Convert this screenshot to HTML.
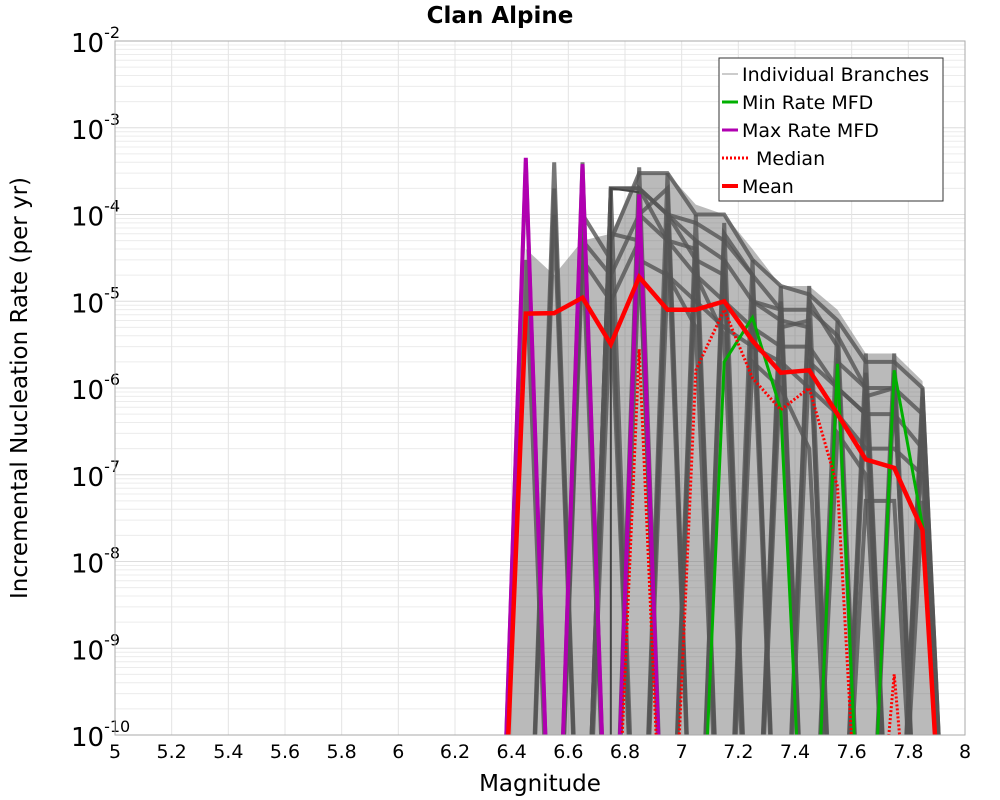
<!DOCTYPE html>
<html><head><meta charset="utf-8"><style>
html,body{margin:0;padding:0;background:#fff;overflow:hidden;width:1000px;height:800px;}
svg{display:block;}
svg text{font-family:"DejaVu Sans","Liberation Sans",sans-serif;}
</style></head><body>
<svg id="chart" width="1000" height="800" xmlns="http://www.w3.org/2000/svg">
<text x="500" y="23" text-anchor="middle" font-size="23" font-weight="bold">Clan Alpine</text>
<g id="grid"></g>
<g id="ticks"></g>
<defs><clipPath id="clip"><rect x="115" y="41" width="850" height="694"/></clipPath></defs>
<g id="series" clip-path="url(#clip)"></g>
<rect x="115" y="41" width="850" height="694" fill="none" stroke="#aaa" stroke-width="1"/>
<text x="540" y="791" text-anchor="middle" font-size="23">Magnitude</text>
<text transform="translate(27,388) rotate(-90)" text-anchor="middle" font-size="23">Incremental Nucleation Rate (per yr)</text>
<g>
<rect x="719" y="58" width="224" height="143" fill="#fff" stroke="#333" stroke-width="1"/>
<line x1="722" y1="74" x2="738" y2="74" stroke="#999" stroke-width="1"/>
<text x="742" y="81" font-size="19">Individual Branches</text>
<line x1="722" y1="102" x2="738" y2="102" stroke="#00b000" stroke-width="3"/>
<text x="742" y="109" font-size="19">Min Rate MFD</text>
<line x1="722" y1="130" x2="738" y2="130" stroke="#b000b0" stroke-width="3"/>
<text x="742" y="137" font-size="19">Max Rate MFD</text>
<line x1="722" y1="158" x2="750" y2="158" stroke="#f00" stroke-width="3" stroke-dasharray="2,2"/>
<text x="756" y="165" font-size="19">Median</text>
<line x1="722" y1="186" x2="738" y2="186" stroke="#f00" stroke-width="4"/>
<text x="742" y="193" font-size="19">Mean</text>
</g>
</svg>
<script>
const mags=[6.35,6.45,6.55,6.65,6.75,6.85,6.95,7.05,7.15,7.25,7.35,7.45,7.55,7.65,7.75,7.85,7.95];
const meanRates=[0,7.2e-6,7.3e-6,1.1e-5,3.2e-6,1.9e-5,8e-6,8e-6,1e-5,3.5e-6,1.5e-6,1.6e-6,5e-7,1.5e-7,1.2e-7,2.3e-8,0];
const minRates=[0,0,0,0,0,0,0,0,2e-6,6.5e-6,5.6e-7,0,1.9e-6,0,1.6e-6,2.6e-8,0];
const maxRates=[0,4.5e-4,0,3.8e-4,0,1.7e-4,0,0,0,0,0,0,0,0,0,0,0];
const medianRates=[0,0,0,0,0,2.8e-6,0,1.6e-6,8e-6,1.3e-6,5.6e-7,1e-6,7.3e-8,0,5e-10,0,0];
const envelopeRates=[0,4e-5,2e-5,5e-5,6e-5,3e-4,3e-4,1.3e-4,1e-4,4e-5,1.5e-5,1.5e-5,8e-6,2.5e-6,2.5e-6,1.2e-6,0];
const branch1=[0,4e-4,0,4e-4,0,3.5e-4,0,1e-4,0,3e-5,0,1.5e-5,0,2.5e-6,0,1e-6,0];
const branch2=[0,0,4e-4,0,2e-4,0,3e-4,0,8e-5,0,1.5e-5,0,6e-6,0,2.5e-6,0,0];
const branch3=[0,0,0,0,5e-5,3e-4,3e-4,1e-4,1e-4,3e-5,1.5e-5,1.2e-5,6e-6,2e-6,2e-6,1e-6,0];
const branch4=[0,0,2e-4,0,0,2e-4,1e-4,8e-5,5e-5,2e-5,8e-6,8e-6,4e-6,1e-6,1e-6,5e-7,0];
const branch5=[0,0,0,0,2e-4,2e-4,1e-4,5e-5,3e-5,1e-5,6e-6,5e-6,0,1.5e-6,0,8e-7,0];
const branch6=[0,0,0,2e-4,0,1e-4,2e-4,0,6e-5,2e-5,0,1e-5,3e-6,0,1.5e-6,0,0];
const branch7=[0,0,0,0,6e-5,5e-5,0,5e-5,0,1e-5,8e-6,0,2e-6,1e-6,0,5e-7,0];
const branch8=[0,0,0,1e-4,3e-5,0,1e-4,3e-5,2e-5,0,5e-6,6e-6,0,8e-7,1e-6,0,0];
const branch9=[0,0,0,5e-5,2e-5,1e-4,5e-5,2e-5,1e-5,5e-6,3e-6,3e-6,1e-6,5e-7,5e-7,2e-7,0];
const branch10=[0,0,0,0,0,3e-5,2e-5,1e-5,5e-6,3e-6,2e-6,1e-6,5e-7,2e-7,2e-7,1e-7,0];
const branch11=[0,0,1e-4,0,2e-4,2e-4,5e-5,4e-5,0,8e-6,0,2e-6,1e-6,5e-7,0,3e-7,0];
const branch12=[0,3e-5,0,5e-5,0,0,8e-5,0,3e-5,0,1e-5,0,2e-6,0,1e-6,0,0];
const branch13=[0,0,0,3e-5,1e-5,5e-5,0,2e-5,4e-6,0,2e-6,0,3e-7,1e-7,0,5e-8,0];
const branch14=[0,0,0,0,1e-5,0,2e-5,5e-6,0,2e-6,1e-6,2e-7,0,5e-8,5e-8,0,0];
const branches=[branch1,branch2,branch3,branch4,branch5,branch6,branch7,branch8,branch9,branch10,branch11,branch12,branch13,branch14];
const xTicks=[5,5.2,5.4,5.6,5.8,6,6.2,6.4,6.6,6.8,7,7.2,7.4,7.6,7.8,8];
const yExps=[-2,-3,-4,-5,-6,-7,-8,-9,-10];

const NS='http://www.w3.org/2000/svg';
const X=m=>115+(m-5)/3*850;
const Y=v=>{const l=Math.log10(Math.max(v,1e-13));return 41+(-2-l)/8*694;};
function mk(tag,attrs,parent){const e=document.createElementNS(NS,tag);for(const k in attrs)e.setAttribute(k,attrs[k]);parent.appendChild(e);return e;}
const grid=document.getElementById('grid'),ticks=document.getElementById('ticks'),ser=document.getElementById('series');
for(let d=-10;d<-2;d++){for(let k=1;k<10;k++){const y=Y(k*Math.pow(10,d));
const l=mk('line',{x1:115,x2:965,y1:y,y2:y,stroke:k==1?'#ddd':'#ececec','stroke-width':1},grid);
}}
xTicks.forEach(t=>{const x=X(t);
const l=mk('line',{x1:x,x2:x,y1:41,y2:735,stroke:'#e4e4e4','stroke-width':1},grid);

const tx=mk('text',{x:x,y:758,'text-anchor':'middle','font-size':19},ticks);tx.textContent=String(t);
});
yExps.forEach(e=>{const y=Y(Math.pow(10,e));
const tx=mk('text',{x:71,y:y+11,'font-size':26},ticks);

tx.textContent='10';const s=mk('tspan',{dy:-14,'font-size':16},tx);s.textContent=String(e);});
function path(arr){return arr.map((v,i)=>(i?'L':'M')+X(mags[i]).toFixed(1)+','+Y(v).toFixed(1)).join(' ');}
const env=mk('path',{d:path(envelopeRates)+' Z',fill:'#666','fill-opacity':0.45,stroke:'none'},ser);

branches.forEach(b=>{const p=mk('path',{d:path(b),fill:'none',stroke:'#555','stroke-width':4,'stroke-opacity':0.8,'stroke-linejoin':'miter'},ser);
});
const box=mk('path',{d:'M'+X(6.75)+','+Y(0)+' L'+X(6.75)+','+Y(2e-4)+' L'+X(6.85)+','+Y(1.8e-4),fill:'none',stroke:'#444','stroke-width':2},ser);

const m1=mk('path',{d:path(maxRates),fill:'none',stroke:'#b000b0','stroke-width':4},ser);

const m2=mk('path',{d:path(minRates),fill:'none',stroke:'#00b000','stroke-width':3},ser);

const m3=mk('path',{d:path(medianRates),fill:'none',stroke:'#f00','stroke-width':3,'stroke-dasharray':'2,2'},ser);

const m4=mk('path',{d:path(meanRates),fill:'none',stroke:'#f00','stroke-width':4.5},ser);

</script>
</body></html>
